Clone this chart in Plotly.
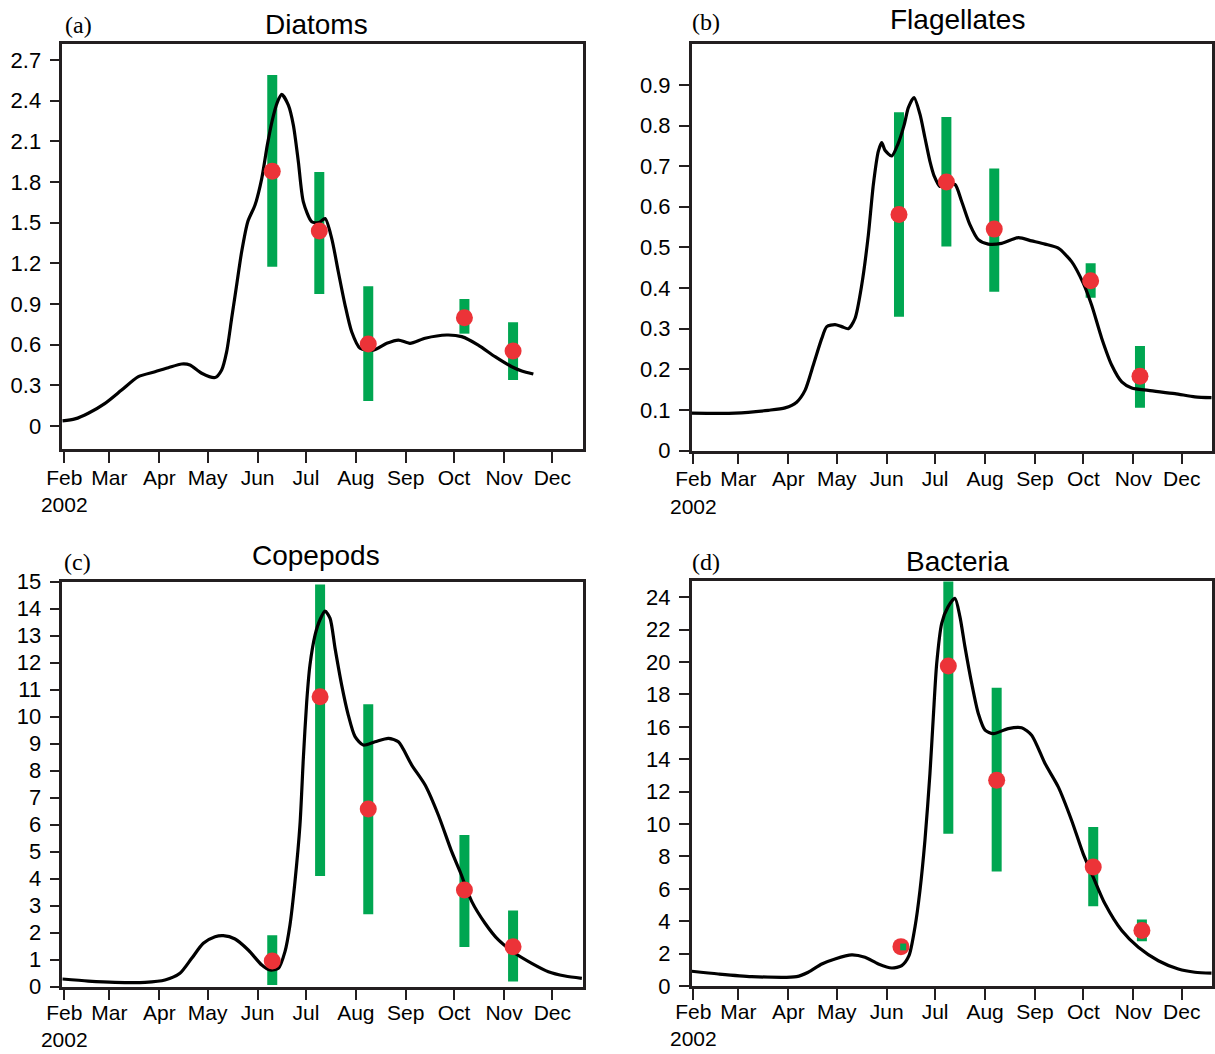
import pandas as pd
import plotly.graph_objects as go

BASE = pd.Timestamp("2002-02-01")  # day 0 of all "day" arrays (days since 1 Feb 2002)

# ---------------- data ----------------
month_days = [0, 28, 59, 89, 120, 150, 181, 212, 242, 273, 303]
month_text = ["Feb<br>2002", "Mar", "Apr", "May", "Jun", "Jul", "Aug", "Sep", "Oct", "Nov", "Dec"]

# Diatoms
diatoms_day = [-1.2, 6.6, 14.9, 25.3, 35.6, 46, 56.3, 64.6, 72.9, 78, 85.3, 93.6, 97.7, 100.8,
               103.9, 107, 110.1, 113.9, 118.4, 122.6, 126, 129, 132.3, 135, 139.1, 142.2, 145.3,
               148.4, 153.6, 158, 161.9, 166, 170.1, 174.3, 178.4, 183.6, 191.9, 200.2, 207.4,
               214.6, 224, 237.4, 246.7, 257, 267.4, 277.8, 284, 291.2]
diatoms_val = [0.037, 0.052, 0.094, 0.167, 0.265, 0.364, 0.40, 0.43, 0.457, 0.45, 0.389, 0.357,
               0.413, 0.548, 0.794, 1.04, 1.285, 1.507, 1.63, 1.827, 2.07, 2.25, 2.39, 2.446,
               2.367, 2.22, 1.95, 1.654, 1.507, 1.50, 1.53, 1.384, 1.138, 0.892, 0.695, 0.573,
               0.56, 0.61, 0.634, 0.61, 0.647, 0.671, 0.659, 0.597, 0.511, 0.437, 0.406, 0.383]
diatoms_obs_day = [129.1, 158.3, 188.7, 248.4, 278.6]
diatoms_obs_mean = [1.88, 1.438, 0.605, 0.799, 0.553]
diatoms_obs_lo = [1.175, 0.973, 0.184, 0.681, 0.339]
diatoms_obs_hi = [2.59, 1.873, 1.03, 0.937, 0.765]
diatoms_ticks = [0, 0.3, 0.6, 0.9, 1.2, 1.5, 1.8, 2.1, 2.4, 2.7]
diatoms_ticktext = ["0", "0.3", "0.6", "0.9", "1.2", "1.5", "1.8", "2.1", "2.4", "2.7"]

# Flagellates
flag_day = [-1, 25.9, 46.5, 56.9, 64.1, 69.3, 74.4, 79.7, 82.8, 87.9, 92.1, 96.2, 100.3, 104.5,
            108.6, 111.7, 114.8, 116.9, 118.9, 123.1, 127, 130.9, 133.4, 136.9, 140.6, 143.7,
            146.8, 149.5, 153, 157.5, 162.3, 166.5, 171.6, 176.8, 183, 191.3, 201.6, 209.9,
            218.2, 226.4, 234.7, 241.9, 247.1, 253.4, 259.6, 265.8, 272, 282.3, 298.8, 311.2, 321.6]
flag_val = [0.092, 0.092, 0.099, 0.105, 0.119, 0.148, 0.21, 0.276, 0.305, 0.31, 0.305, 0.30,
            0.325, 0.408, 0.531, 0.655, 0.737, 0.758, 0.739, 0.725, 0.755, 0.803, 0.844, 0.869,
            0.828, 0.77, 0.712, 0.675, 0.65, 0.655, 0.655, 0.613, 0.556, 0.519, 0.508, 0.51,
            0.524, 0.516, 0.508, 0.498, 0.465, 0.412, 0.358, 0.276, 0.21, 0.169, 0.154, 0.148,
            0.14, 0.132, 0.13]
flag_obs_day = [127.6, 157, 186.7, 246.5, 277.1]
flag_obs_mean = [0.581, 0.661, 0.545, 0.418, 0.183]
flag_obs_lo = [0.329, 0.502, 0.391, 0.376, 0.105]
flag_obs_hi = [0.833, 0.821, 0.694, 0.461, 0.257]
flag_ticks = [0, 0.1, 0.2, 0.3, 0.4, 0.5, 0.6, 0.7, 0.8, 0.9]
flag_ticktext = ["0", "0.1", "0.2", "0.3", "0.4", "0.5", "0.6", "0.7", "0.8", "0.9"]

# Copepods
cope_day = [-1.2, 14.9, 31.5, 50.1, 62.5, 71.8, 79.1, 86.3, 93.6, 98.7, 106, 114.2, 122.6, 127.7,
            132.9, 137, 140.1, 143.2, 146.3, 148.4, 150.5, 152.5, 155.7, 158.8, 161.9, 165, 168.1,
            172.2, 176.3, 180.5, 185.6, 192.9, 201.2, 207.4, 215.7, 224, 232.2, 240.5, 245.7,
            253, 261.2, 269.5, 279.8, 290.2, 300.5, 310.9, 321.3]
cope_val = [0.285, 0.21, 0.163, 0.163, 0.248, 0.496, 1.05, 1.607, 1.85, 1.89, 1.767, 1.36, 0.804,
            0.618, 0.68, 1.3, 2.285, 3.89, 5.99, 8.46, 10.56, 11.91, 13.03, 13.6, 13.91, 13.64,
            12.53, 11.17, 10.06, 9.26, 8.95, 9.07, 9.2, 9.07, 8.21, 7.47, 6.36, 5.0, 4.26, 3.15,
            2.35, 1.73, 1.24, 0.867, 0.556, 0.396, 0.31]
cope_obs_day = [129.1, 158.8, 188.7, 248.4, 278.6]
cope_obs_mean = [0.95, 10.74, 6.58, 3.58, 1.48]
cope_obs_lo = [0.06, 4.1, 2.68, 1.47, 0.19]
cope_obs_hi = [1.91, 14.9, 10.46, 5.62, 2.82]
cope_ticks = list(range(0, 16))
cope_ticktext = [str(v) for v in cope_ticks]

# Bacteria
bact_day = [-1, 15.5, 36.2, 64.1, 71.3, 79.7, 87.9, 98.3, 106.5, 114.8, 123.1, 129.3, 133.8,
            137.5, 140.6, 143.7, 146.8, 148.9, 151, 154.1, 158, 162.3, 165.4, 168.5, 172.7,
            176.8, 181, 186.1, 195.4, 203.7, 209.9, 218.2, 226.4, 234.7, 241.9, 248.1, 255.4,
            265.8, 276.1, 288.5, 300.9, 311.2, 321.6]
bact_val = [0.91, 0.74, 0.58, 0.58, 0.85, 1.36, 1.67, 1.92, 1.77, 1.36, 1.11, 1.26, 1.87, 3.63,
            5.89, 8.99, 13.11, 16.62, 19.91, 22.39, 23.4, 23.93, 22.8, 20.95, 18.68, 16.82, 15.79,
            15.58, 15.89, 15.94, 15.48, 13.73, 12.29, 10.22, 8.16, 6.72, 5.07, 3.42, 2.39, 1.56,
            1.05, 0.85, 0.79]
bact_obs_day = [128.8, 158.2, 188.2, 248.1, 278.3]
bact_bar_day = [130.2, 158.2, 188.2, 248.1, 278.3]
bact_obs_mean = [2.43, 19.75, 12.7, 7.34, 3.42]
bact_obs_lo = [2.2, 9.4, 7.07, 4.93, 2.76]
bact_obs_hi = [2.62, 24.97, 18.41, 9.81, 4.1]
bact_ticks = list(range(0, 25, 2))
bact_ticktext = [str(v) for v in bact_ticks]

# ---------------- helpers ----------------
def to_dates(days):
    return [BASE + pd.Timedelta(days=float(d)) for d in days]

GREEN = "#00A651"
RED = "#EC3338"
FRAME = "#231F20"
FONT = "Liberation Sans, Arial, sans-serif"
W, H = 1215, 1054

fig = go.Figure()


def bars_xy(days, lo, hi):
    xs, ys = [], []
    for d, a, b in zip(to_dates(days), lo, hi):
        xs += [d, d, None]
        ys += [a, b, None]
    return xs, ys


def add_panel(idx, cday, cval, oday, omean, olo, ohi, bar_day=None, top_bar=None):
    xa = "x" if idx == 1 else f"x{idx}"
    ya = "y" if idx == 1 else f"y{idx}"
    bday = bar_day if bar_day is not None else oday
    under = [i for i in range(len(oday)) if not (top_bar and i in top_bar)]
    bx, by = bars_xy([bday[i] for i in under], [olo[i] for i in under], [ohi[i] for i in under])
    fig.add_trace(go.Scatter(x=bx, y=by, mode="lines", line=dict(color=GREEN, width=10),
                             xaxis=xa, yaxis=ya, showlegend=False, hoverinfo="skip"))
    fig.add_trace(go.Scatter(x=to_dates(cday), y=cval, mode="lines",
                             line=dict(color="black", width=3.2, shape="spline", smoothing=0.7),
                             xaxis=xa, yaxis=ya, showlegend=False))
    fig.add_trace(go.Scatter(x=to_dates(oday), y=omean, mode="markers",
                             marker=dict(color=RED, size=17, line=dict(width=0)),
                             xaxis=xa, yaxis=ya, showlegend=False))
    if top_bar:
        tx, ty = bars_xy([bday[i] for i in top_bar], [olo[i] for i in top_bar],
                         [ohi[i] for i in top_bar])
        fig.add_trace(go.Scatter(x=tx, y=ty, mode="lines", line=dict(color=GREEN, width=6),
                                 xaxis=xa, yaxis=ya, showlegend=False, hoverinfo="skip"))


add_panel(1, diatoms_day, diatoms_val, diatoms_obs_day, diatoms_obs_mean, diatoms_obs_lo, diatoms_obs_hi)
add_panel(2, flag_day, flag_val, flag_obs_day, flag_obs_mean, flag_obs_lo, flag_obs_hi)
add_panel(3, cope_day, cope_val, cope_obs_day, cope_obs_mean, cope_obs_lo, cope_obs_hi)
add_panel(4, bact_day, bact_val, bact_obs_day, bact_obs_mean, bact_obs_lo, bact_obs_hi,
          bar_day=bact_bar_day, top_bar=[0])

tickvals_x = to_dates(month_days)


def xaxis(domain, rng, anchor, standoff):
    return dict(domain=domain, range=rng, type="date", anchor=anchor, automargin=False,
                tickmode="array", tickvals=tickvals_x, ticktext=month_text, tickangle=0,
                ticks="outside", ticklen=11, tickwidth=2, tickcolor=FRAME,
                showline=True, mirror=True, linecolor=FRAME, linewidth=2.5,
                showgrid=False, zeroline=False, ticklabelstandoff=standoff,
                tickfont=dict(family=FONT, size=21, color="black"))


def yaxis(domain, rng, anchor, tv, tt):
    return dict(domain=domain, range=rng, anchor=anchor, automargin=False,
                tickmode="array", tickvals=tv, ticktext=tt,
                ticks="outside", ticklen=10, tickwidth=2, tickcolor=FRAME,
                showline=True, mirror=True, linecolor=FRAME, linewidth=2.5,
                showgrid=False, zeroline=False, ticklabelstandoff=4,
                tickfont=dict(family=FONT, size=22, color="black"))


xl = [62.3 / W, 583.3 / W]
xr = [691.7 / W, 1211.7 / W]
rng_l = [BASE - pd.Timedelta(days=1.24), BASE + pd.Timedelta(days=322.2)]
rng_r = [BASE - pd.Timedelta(days=1.0), BASE + pd.Timedelta(days=321.6)]
ya_dom = [1 - 449 / H, 1 - 44.3 / H]
yb_dom = [1 - 450.5 / H, 1 - 44.3 / H]
yc_dom = [1 - 986.7 / H, 1 - 581.7 / H]
yd_dom = [1 - 986 / H, 1 - 581 / H]

fig.update_layout(
    width=W, height=H, margin=dict(l=0, r=0, t=0, b=0, autoexpand=False),
    paper_bgcolor="white", plot_bgcolor="white",
    xaxis=xaxis(xl, rng_l, "y", -3),
    yaxis=yaxis(ya_dom, [-0.170, 2.816], "x", diatoms_ticks, diatoms_ticktext),
    xaxis2=xaxis(xr, rng_r, "y2", -3),
    yaxis2=yaxis(yb_dom, [0, 1.0], "x2", flag_ticks, flag_ticktext),
    xaxis3=xaxis(xl, rng_l, "y3", -6),
    yaxis3=yaxis(yc_dom, [0, 15], "x3", cope_ticks, cope_ticktext),
    xaxis4=xaxis(xr, rng_r, "y4", -6),
    yaxis4=yaxis(yd_dom, [0, 25], "x4", bact_ticks, bact_ticktext),
)

titles = [("Diatoms", 316, 25), ("Flagellates", 957, 19), ("Copepods", 316, 555), ("Bacteria", 957, 561)]
labels = [("(a)", 78, 25), ("(b)", 706, 22), ("(c)", 77, 562), ("(d)", 706, 562)]
for t, px, py in titles:
    fig.add_annotation(text=t, x=px / W, y=1 - py / H, xref="paper", yref="paper",
                       showarrow=False, xanchor="center", yanchor="middle",
                       font=dict(family=FONT, size=28, color="black"))
for t, px, py in labels:
    fig.add_annotation(text=t, x=px / W, y=1 - py / H, xref="paper", yref="paper",
                       showarrow=False, xanchor="center", yanchor="middle",
                       font=dict(family="Liberation Serif, Times New Roman, serif", size=24, color="black"))

fig.write_html("out.html")
